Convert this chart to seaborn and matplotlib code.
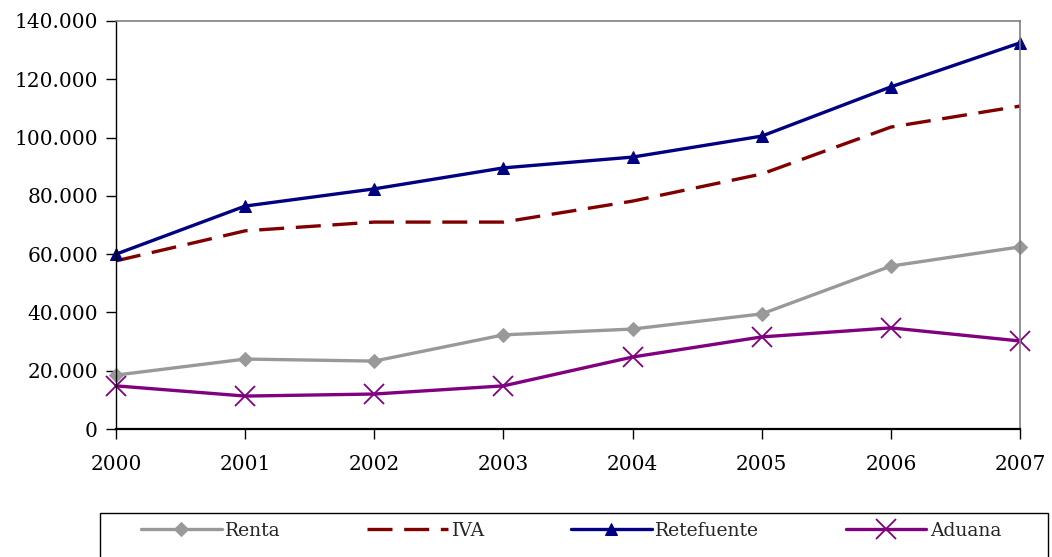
import numpy as np
import pandas as pd
import matplotlib
matplotlib.use("Agg")
import matplotlib.pyplot as plt
import matplotlib.patches as mpatches
import seaborn as sns
from matplotlib.ticker import FuncFormatter

# datos (aprox.)
years = [2000, 2001, 2002, 2003, 2004, 2005, 2006, 2007]
renta = [18500, 24000, 23300, 32300, 34300, 39500, 55900, 62500]
iva = [57700, 68000, 71000, 71000, 78200, 87500, 103600, 110800]
retefuente = [60000, 76500, 82400, 89600, 93300, 100500, 117400, 132500]
aduana = [14800, 11300, 12000, 14800, 24700, 31600, 34700, 30200]

sns.set_style("white")
plt.rcParams['font.family'] = ['DejaVu Serif']

fig = plt.figure(figsize=(10.52, 5.57), dpi=100)
ax = fig.add_axes([0.1103, 0.2298, 0.8593, 0.7325])

lw = 2.4
sns.lineplot(x=years, y=renta, ax=ax, color='#999999', lw=lw, marker='D',
             markersize=7, markeredgecolor='#999999', label='Renta', clip_on=False)
sns.lineplot(x=years, y=iva, ax=ax, color='#800000', lw=lw, label='IVA', clip_on=False)
ax.lines[-1].set_dashes((7.5, 3.5))
sns.lineplot(x=years, y=retefuente, ax=ax, color='#000080', lw=lw, marker='^',
             markersize=9, markeredgecolor='#000080', label='Retefuente', clip_on=False)
sns.lineplot(x=years, y=aduana, ax=ax, color='#800080', lw=lw, marker='x',
             markersize=14, markeredgewidth=1.3, markeredgecolor='#800080',
             label='Aduana', clip_on=False)

ax.set_xlim(2000, 2007)
ax.set_ylim(0, 140000)
ax.set_xticks(years)
ax.set_yticks(np.arange(0, 140001, 20000))
ax.yaxis.set_major_formatter(FuncFormatter(lambda v, p: f"{int(v):,}".replace(",", ".")))

for s in ['top', 'right']:
    ax.spines[s].set_color('#808080')
    ax.spines[s].set_linewidth(1.2)
ax.spines['left'].set_color('black')
ax.spines['left'].set_linewidth(1.0)
ax.spines['bottom'].set_color('black')
ax.spines['bottom'].set_linewidth(1.6)

ax.tick_params(axis='y', direction='out', length=7, width=1, left=True,
               labelsize=14.5, pad=6, colors='black')
ax.tick_params(axis='x', direction='out', length=7, width=1, bottom=True,
               labelsize=14.5, pad=12, colors='black')
ax.set_xlabel('')
ax.set_ylabel('')

ax.get_legend().remove()
handles, labels = ax.get_legend_handles_labels()
leg = fig.legend(handles, labels, loc='center left', ncol=4,
                 bbox_to_anchor=(141 / 1052, 1 - 531 / 557), fontsize=13.5,
                 handlelength=4.3, handletextpad=0.2, borderpad=0,
                 columnspacing=4.6, frameon=False, borderaxespad=0)

# marco de la leyenda (cortado por abajo)
fig.patches.append(mpatches.Rectangle((100 / 1052, -0.02), 948 / 1052, 0.02 + 44 / 557,
                                      transform=fig.transFigure, fill=False,
                                      edgecolor='black', linewidth=1.0))

fig.savefig('out.png', dpi=100)
